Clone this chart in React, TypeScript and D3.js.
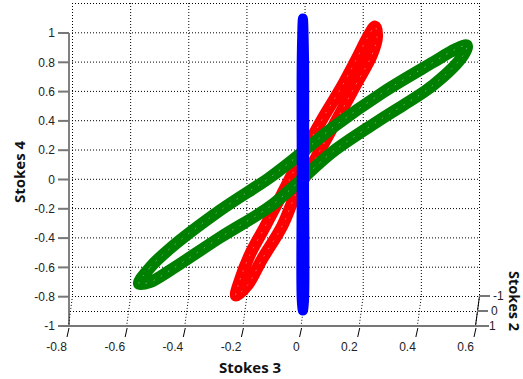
import React from "react";
import * as d3 from "d3";

const W = 523;
const H = 379;

// Axis ticks
const xTickValues = [-0.8, -0.6, -0.4, -0.2, 0, 0.2, 0.4, 0.6];
const xTickLabels = ["-0.8", "-0.6", "-0.4", "-0.2", "0", "0.2", "0.4", "0.6"];
const yTickValues = [-1, -0.8, -0.6, -0.4, -0.2, 0, 0.2, 0.4, 0.6, 0.8, 1];
const yTickLabels = ["-1", "-0.8", "-0.6", "-0.4", "-0.2", "0", "0.2", "0.4", "0.6", "0.8", "1"];
const zTickValues = [-1, 0, 1];
const zTickLabels = ["-1", "0", "1"];

// Closed polarisation traces (Stokes 3, Stokes 4), listed around each loop
const redX = [-0.222, -0.208, -0.174, -0.122, -0.061, -0.002, 0.074, 0.142, 0.197, 0.232, 0.256, 0.263, 0.246, 0.187, 0.125, 0.05, -0.014, -0.064, -0.133, -0.181];
const redY = [-0.792, -0.683, -0.512, -0.321, -0.089, 0.137, 0.41, 0.635, 0.84, 0.976, 1.044, 0.976, 0.853, 0.635, 0.41, 0.137, -0.089, -0.321, -0.546, -0.717];

const greenX = [-0.556, -0.518, -0.449, -0.277, -0.105, -0.012, 0.111, 0.283, 0.455, 0.531, 0.572, 0.559, 0.455, 0.283, 0.111, -0.012, -0.105, -0.277, -0.449, -0.518];
const greenY = [-0.71, -0.601, -0.471, -0.211, 0.015, 0.157, 0.355, 0.594, 0.799, 0.887, 0.915, 0.846, 0.642, 0.42, 0.19, -0.027, -0.184, -0.396, -0.62, -0.7];

const blueX = [0.008, 0.012, 0.012, 0.012, 0.008, 0.004, 0.004, 0.004];
const blueY = [1.099, 0.819, 0, -0.819, -0.894, -0.819, 0, 0.819];

const series = [
  { name: "red", xs: redX, ys: redY, color: "#ff0000", width: 12, specks: true },
  { name: "green", xs: greenX, ys: greenY, color: "#008000", width: 12, specks: true },
  { name: "blue", xs: blueX, ys: blueY, color: "#0000ff", width: 10, specks: false },
];

const tickFont = "'Liberation Sans', Arial, sans-serif";
const titleFont = "'Open Sans', 'DejaVu Sans', sans-serif";

export default function App() {
  const x = d3.scaleLinear().domain([-0.8, 0.6]).range([68, 475]);
  const y = d3.scaleLinear().domain([-1, 1]).range([326, 33]);
  // Stokes 2 depth: front face at 1, back wall at -1
  const dx = d3.scaleLinear().domain([1, -1]).range([0, 4]);
  const dy = d3.scaleLinear().domain([1, -1]).range([0, -30]);

  const xMin = -0.8;
  const xMax = 0.6;
  const backTop = y(1) + dy(-1);
  const backBottom = y(-1) + dy(-1);

  const dotted = { stroke: "#000", strokeWidth: 1, strokeDasharray: "1 2", fill: "none" } as const;

  const line = d3
    .line<[number, number]>()
    .x((d) => x(d[0]))
    .y((d) => y(d[1]))
    .curve(d3.curveCatmullRomClosed.alpha(0.5));

  return (
    <svg
      width={W}
      height={H}
      viewBox={`0 0 ${W} ${H}`}
      style={{ position: "absolute", left: 0, top: 0, background: "#fff" }}
    >
      <rect x={0} y={0} width={W} height={H} fill="#fff" />

      {/* back wall grid */}
      <g>
        {yTickValues.map((v) => (
          <line
            key={`hy${v}`}
            x1={x(xMin) + dx(-1)}
            x2={x(xMax) + dx(-1)}
            y1={y(v) + dy(-1) + 0.5}
            y2={y(v) + dy(-1) + 0.5}
            {...dotted}
          />
        ))}
        {xTickValues.map((v) => (
          <line
            key={`vx${v}`}
            x1={x(v) + dx(-1) + 0.5}
            x2={x(v) + dx(-1) + 0.5}
            y1={backTop}
            y2={backBottom}
            {...dotted}
          />
        ))}
        {/* floor grid */}
        {xTickValues.map((v) => (
          <line
            key={`fx${v}`}
            x1={x(v) + dx(-1) + 0.5}
            x2={x(v) + 0.5}
            y1={backBottom}
            y2={y(-1)}
            {...dotted}
          />
        ))}
        {zTickValues
          .filter((z) => z === 0)
          .map((z) => (
            <line
              key={`fz${z}`}
              x1={x(xMin) + dx(z)}
              x2={x(xMax) + dx(z)}
              y1={y(-1) + dy(z) + 0.5}
              y2={y(-1) + dy(z) + 0.5}
              {...dotted}
            />
          ))}
      </g>

      {/* traces */}
      <g>
        {series.map((s) => {
          const pts: [number, number][] = s.xs.map((v, i) => [v, s.ys[i]]);
          const d = line(pts) ?? "";
          return (
            <g key={s.name}>
              <path d={d} fill="none" stroke={s.color} strokeWidth={s.width} strokeLinejoin="round" />
              {s.specks && (
                <path
                  d={d}
                  fill="none"
                  stroke="#fff"
                  strokeOpacity={0.4}
                  strokeWidth={1}
                  strokeDasharray="1.5 7"
                />
              )}
            </g>
          );
        })}
      </g>

      {/* Stokes 4 axis */}
      <g>
        <line x1={x(xMin) + 1} x2={x(xMin) + 1} y1={y(1)} y2={y(-1)} stroke="#000" strokeWidth={1} />
        {yTickValues.map((v, i) => (
          <g key={`yt${v}`}>
            <line x1={x(xMin) - 10} x2={x(xMin) + 1} y1={y(v)} y2={y(v)} stroke="#777" strokeWidth={2} />
            <text
              x={x(xMin) - 13}
              y={y(v)}
              dy="0.35em"
              textAnchor="end"
              fontFamily={tickFont}
              fontSize={12}
              fill="#222"
            >
              {yTickLabels[i]}
            </text>
          </g>
        ))}
      </g>

      {/* Stokes 3 axis */}
      <g>
        <line x1={x(xMin)} x2={x(xMax) + 14} y1={y(-1)} y2={y(-1)} stroke="#777" strokeWidth={2} />
        {xTickValues.map((v, i) => (
          <g key={`xt${v}`}>
            <line x1={x(v) + 1} x2={x(v) - 1} y1={y(-1) + 2} y2={y(-1) + 11} stroke="#000" strokeWidth={1} />
            <text
              x={x(v) - 1}
              y={y(-1) + 25}
              textAnchor="end"
              fontFamily={tickFont}
              fontSize={12}
              fill="#222"
            >
              {xTickLabels[i]}
            </text>
          </g>
        ))}
      </g>

      {/* Stokes 2 axis */}
      <g>
        <line
          x1={x(xMax) + dx(-1) + 0.5}
          y1={y(-1) + dy(-1)}
          x2={x(xMax) + dx(1) + 0.5}
          y2={y(-1) + dy(1)}
          stroke="#000"
          strokeWidth={1}
        />
        {zTickValues.map((z, i) => (
          <g key={`zt${z}`}>
            <line
              x1={x(xMax) + dx(z)}
              x2={x(xMax) + dx(z) + 11}
              y1={y(-1) + dy(z)}
              y2={y(-1) + dy(z)}
              stroke="#777"
              strokeWidth={2}
            />
            <text
              x={x(xMax) + dx(z) + 14}
              y={y(-1) + dy(z)}
              dy="0.35em"
              textAnchor="start"
              fontFamily={tickFont}
              fontSize={12}
              fill="#222"
            >
              {zTickLabels[i]}
            </text>
          </g>
        ))}
      </g>

      {/* axis titles */}
      <text x={250} y={373} textAnchor="middle" fontFamily={titleFont} fontWeight="bold" fontSize={15} fill="#111">
        Stokes 3
      </text>
      <text
        transform="translate(25,172) rotate(-90)"
        textAnchor="middle"
        fontFamily={titleFont}
        fontWeight="bold"
        fontSize={15}
        fill="#111"
      >
        Stokes 4
      </text>
      <text
        transform="translate(509,301) rotate(90)"
        textAnchor="middle"
        fontFamily={titleFont}
        fontWeight="bold"
        fontSize={14.5}
        fill="#111"
      >
        Stokes 2
      </text>
    </svg>
  );
}
